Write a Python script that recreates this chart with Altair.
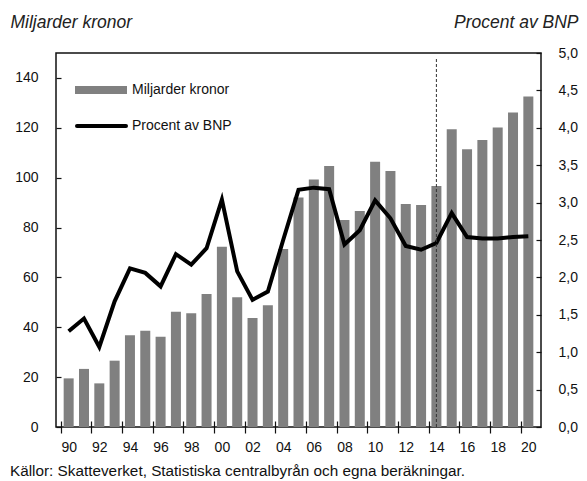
import altair as alt
import pandas as pd

years = list(range(1990, 2021))
billions = [19.5, 23.3, 17.5, 26.6, 36.8, 38.6, 36.2, 46.2, 45.6, 53.3,
            72.3, 52.0, 43.7, 48.8, 71.4, 92.0, 99.3, 104.7, 83.0, 86.6,
            106.4, 102.7, 89.4, 89.0, 96.7, 119.4, 111.4, 115.1, 120.1, 126.1,
            132.6]
pct_gdp = [1.28, 1.45, 1.07, 1.68, 2.12, 2.06, 1.88, 2.31, 2.17, 2.39,
           3.04, 2.08, 1.70, 1.81, 2.50, 3.17, 3.20, 3.18, 2.44, 2.63,
           3.03, 2.79, 2.42, 2.37, 2.46, 2.86, 2.54, 2.52, 2.52, 2.54,
           2.55]
x_tick_years = list(range(1990, 2021, 2))
left_ticks = list(range(0, 141, 20))
right_ticks = [i * 0.5 for i in range(11)]
forecast_start = [2014]
left_title = "Miljarder kronor"
right_title = "Procent av BNP"
source = "Källor: Skatteverket, Statistiska centralbyrån och egna beräkningar."

df = pd.DataFrame({"year": years, "billions": billions, "pct": pct_gdp})
fc = pd.DataFrame({"year": forecast_start})
one = pd.DataFrame({"k": [0]})

FONT = "Liberation Sans"
LBL = 14
W, H = 485, 374
half_band = W / 31 / 2

xscale = alt.Scale(domain=[1989.5, 2020.5], nice=False, zero=False)
xaxis = alt.Axis(
    values=x_tick_years, labelExpr="slice(toString(datum.value), 2)",
    tickOffset=-half_band, labelOffset=half_band, labelOverlap=False,
    offset=-6, tickSize=12, domain=False, grid=False, title=None,
    labelPadding=7, labelFont=FONT, labelFontSize=LBL, labelColor="#111",
    tickColor="#111", tickWidth=1.2,
)
x_enc = alt.X("year:Q", scale=xscale, axis=xaxis)

bars = alt.Chart(df).mark_bar(color="#808080", size=10).encode(
    x=x_enc,
    y=alt.Y(
        "billions:Q",
        scale=alt.Scale(domain=[0, 150], nice=False),
        axis=alt.Axis(
            orient="left", values=left_ticks, offset=-5, tickSize=5,
            domain=False, grid=False, labelPadding=18, labelOverlap=False,
            labelFont=FONT, labelFontSize=LBL, labelColor="#111",
            tickColor="#111", tickWidth=1.2,
            title=left_title, titleAngle=0, titleX=-51, titleY=-26,
            titleAlign="left", titleBaseline="alphabetic",
            titleFont=FONT, titleFontStyle="italic",
            titleFontWeight="normal", titleFontSize=17.5, titleColor="#222",
        ),
    ),
)

line = alt.Chart(df).mark_line(color="#000000", strokeWidth=4).encode(
    x=x_enc,
    y=alt.Y(
        "pct:Q",
        scale=alt.Scale(domain=[0, 5], nice=False),
        axis=alt.Axis(
            orient="right", values=right_ticks, offset=-5, tickSize=5,
            domain=False, grid=False, labelPadding=17, labelOverlap=False,
            labelExpr="replace(format(datum.value, '.1f'), '.', ',')",
            labelFont=FONT, labelFontSize=LBL, labelColor="#111",
            tickColor="#111", tickWidth=1.2,
            title=right_title, titleAngle=0, titleX=42, titleY=-26,
            titleAlign="right", titleBaseline="alphabetic",
            titleFont=FONT, titleFontStyle="italic",
            titleFontWeight="normal", titleFontSize=17.5, titleColor="#222",
        ),
    ),
)

vline = alt.Chart(fc).mark_rule(color="#333", strokeDash=[3, 2], strokeWidth=1).encode(
    x=x_enc, y=alt.value(6), y2=alt.value(H)
)

leg_bar = alt.Chart(one).mark_rule(color="#808080", strokeWidth=8).encode(
    x=alt.value(19), x2=alt.value(71), y=alt.value(37)
)
leg_line = alt.Chart(one).mark_rule(color="#000", strokeWidth=4, strokeCap="round").encode(
    x=alt.value(21), x2=alt.value(70), y=alt.value(73)
)
leg_t1 = alt.Chart(one).mark_text(align="left", baseline="middle", font=FONT,
                                  fontSize=LBL, color="#111").encode(
    x=alt.value(76), y=alt.value(37), text=alt.value(left_title)
)
leg_t2 = alt.Chart(one).mark_text(align="left", baseline="middle", font=FONT,
                                  fontSize=LBL, color="#111").encode(
    x=alt.value(76), y=alt.value(73), text=alt.value(right_title)
)
src = alt.Chart(one).mark_text(align="left", baseline="alphabetic", font=FONT,
                               fontSize=15.3, color="#111").encode(
    x=alt.value(-46), y=alt.value(423), text=alt.value(source)
)

chart = alt.layer(
    bars, line, vline, leg_bar, leg_line, leg_t1, leg_t2, src
).resolve_scale(y="independent").properties(
    width=W, height=H,
    autosize=alt.AutoSizeParams(type="none"),
    padding={"left": 48, "top": 45, "right": 38, "bottom": 52},
).configure_view(stroke="#111", strokeWidth=1.5).configure_axisX(labelOverlap=False)

chart.save("out.html", embed_options={"renderer": "svg", "actions": False})
